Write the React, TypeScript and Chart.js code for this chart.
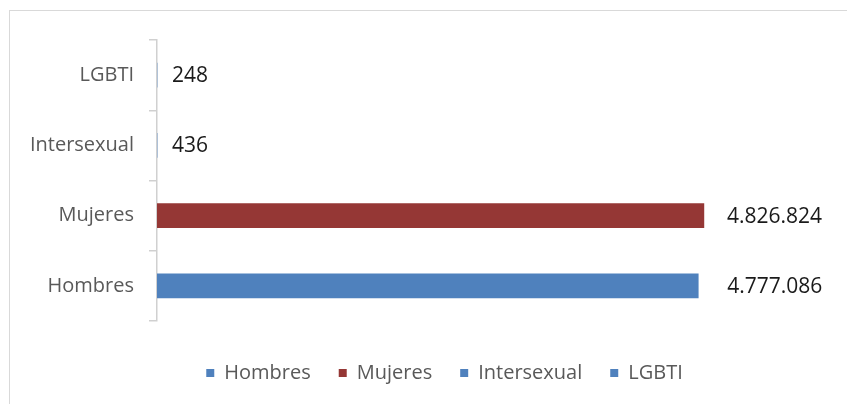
import React, { useEffect, useRef } from "react";
import { Chart, registerables } from "chart.js";

Chart.register(...registerables);

const categories = ["Hombres", "Mujeres", "Intersexual", "LGBTI"];
const values = [4777086, 4826824, 436, 248];
const colors = ["#4F81BD", "#953735", "#4F81BD", "#4F81BD"];
const labelGaps = [29, 23, 15, 15];
const xMax = 6390000;

const FONT = "'Open Sans', 'DejaVu Sans', sans-serif";

function fmt(v: number): string {
  return String(v).replace(/\B(?=(\d{3})+(?!\d))/g, ".");
}

const frame = {
  id: "frame",
  beforeDraw(chart: any) {
    const { ctx, width, height } = chart;
    ctx.save();
    ctx.fillStyle = "#ffffff";
    ctx.fillRect(0, 0, width, height);
    ctx.strokeStyle = "#D9D9D9";
    ctx.lineWidth = 1;
    ctx.beginPath();
    ctx.moveTo(1, 2.5);
    ctx.lineTo(width, 2.5);
    ctx.moveTo(1.5, 2);
    ctx.lineTo(1.5, height);
    ctx.stroke();
    ctx.restore();
  },
};

const valueLabels = {
  id: "valueLabels",
  afterDatasetsDraw(chart: any) {
    const { ctx } = chart;
    ctx.save();
    ctx.font = `21px ${FONT}`;
    ctx.fillStyle = "#1a1a1a";
    ctx.textAlign = "left";
    ctx.textBaseline = "middle";
    chart.data.datasets.forEach((ds: any, i: number) => {
      const meta = chart.getDatasetMeta(i);
      meta.data.forEach((bar: any, j: number) => {
        const v = ds.data[j];
        if (v === null || v === undefined) return;
        ctx.fillText(fmt(v), bar.x + (ds.labelGap || 15), bar.y + 1);
      });
    });
    ctx.restore();
  },
};

export default function App() {
  const ref = useRef<HTMLCanvasElement>(null);

  useEffect(() => {
    document.body.style.overflow = "hidden";
    const canvas = ref.current;
    if (!canvas) return;
    const datasets = categories.map((name, i) => ({
      label: name,
      data: categories.map((_, j) => (j === i ? values[i] : null)),
      backgroundColor: colors[i],
      borderWidth: 0,
      barThickness: 24,
      labelGap: labelGaps[i],
    }));
    const chart = new Chart(canvas, {
      type: "bar",
      data: { labels: categories, datasets: datasets as any },
      options: {
        indexAxis: "y",
        responsive: false,
        animation: false,
        layout: { padding: { top: 32, left: 0, right: 0, bottom: 11 } },
        plugins: {
          legend: {
            position: "bottom",
            labels: {
              boxWidth: 8,
              boxHeight: 8,
              padding: 28,
              color: "#595959",
              font: { family: FONT, size: 20 },
            },
          },
          tooltip: { enabled: false },
        },
        scales: {
          x: {
            stacked: true,
            min: 0,
            max: xMax,
            display: true,
            ticks: { display: false },
            grid: { display: false },
            border: { display: false },
            afterFit: (scale: any) => {
              scale.height = 14;
            },
          },
          y: {
            stacked: true,
            reverse: true,
            grid: {
              display: true,
              offset: true,
              drawOnChartArea: false,
              drawTicks: true,
              tickLength: 8,
              color: "#D0D0D0",
              lineWidth: 1.5,
            },
            border: { display: true, color: "#D0D0D0", width: 1.5 },
            ticks: {
              padding: 15,
              color: "#595959",
              font: { family: FONT, size: 20 },
            },
            afterFit: (scale: any) => {
              scale.width = 149;
            },
          },
        },
      },
      plugins: [frame, valueLabels],
    });
    return () => chart.destroy();
  }, []);

  return (
    <div style={{ width: 873, height: 396, overflow: "hidden" }}>
      <canvas ref={ref} width={873} height={396} style={{ display: "block" }} />
    </div>
  );
}
